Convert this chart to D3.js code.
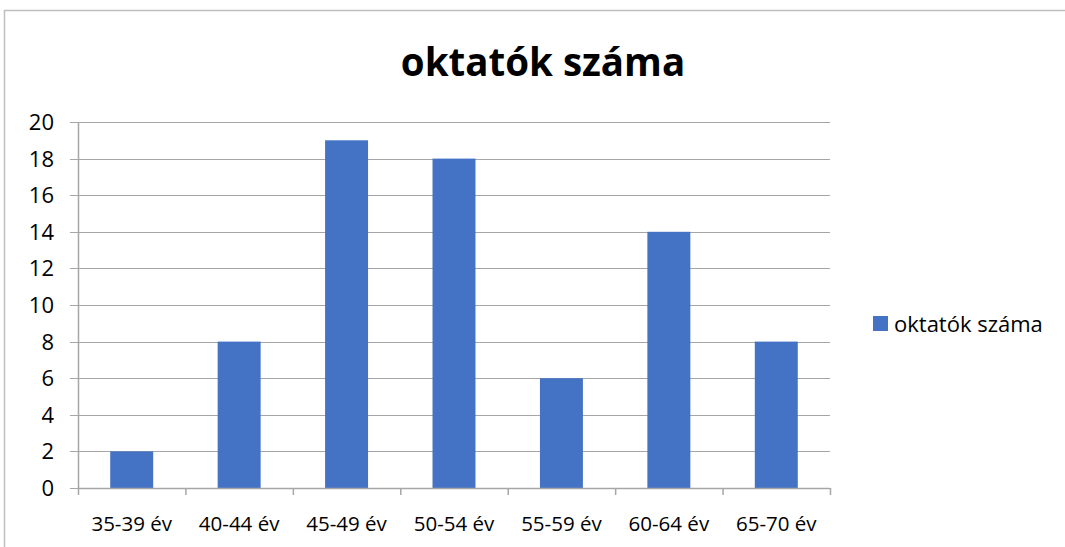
<!DOCTYPE html>
<html>
<head>
<meta charset="utf-8">
<script src="https://cdn.jsdelivr.net/npm/d3@7"></script>
<style>
  body { margin: 0; background: #fff; }
  text { font-family: "Open Sans", "Noto Sans", sans-serif; fill: #000; }
</style>
</head>
<body>
<div id="chart"></div>
<script>
var categories = ['35-39 év', '40-44 év', '45-49 év', '50-54 év', '55-59 év', '60-64 év', '65-70 év'];
var values = [2, 8, 19, 18, 6, 14, 8];
var yTicks = [0, 2, 4, 6, 8, 10, 12, 14, 16, 18, 20];
var seriesName = 'oktatók száma';
var chartTitle = 'oktatók száma';

var W = 1065, H = 547;
var margin = { top: 122, right: 235, bottom: 59, left: 78 };
var width = W - margin.left - margin.right;
var height = H - margin.top - margin.bottom;

var svg = d3.select('#chart').append('svg')
    .attr('width', W)
    .attr('height', H);

// chart frame
svg.append('path')
    .attr('d', 'M4.5,' + H + 'V10.5H' + W)
    .style('fill', 'none')
    .style('stroke', '#bfbfbf')
    .style('stroke-width', '1.5px');

svg.append('text')
    .attr('x', 543)
    .attr('y', 76)
    .attr('text-anchor', 'middle')
    .style('font-size', '38.5px')
    .style('font-weight', 'bold')
    .text(chartTitle);

var g = svg.append('g')
    .attr('transform', 'translate(' + margin.left + ',' + margin.top + ')');

var x = d3.scaleBand().domain(categories).range([0, width]).paddingInner(0.6).paddingOuter(0.3);
var xb = d3.scaleBand().domain(categories).range([0, width]);
var y = d3.scaleLinear().domain([0, 20]).range([height, 0]);

// gridlines
g.selectAll('.grid').data(yTicks).enter().append('line')
    .attr('x1', -8)
    .attr('x2', width)
    .attr('y1', d => Math.round(y(d)) + 0.5)
    .attr('y2', d => Math.round(y(d)) + 0.5)
    .style('stroke', '#a6a6a6')
    .style('stroke-width', '1.2px');

g.selectAll('.ylab').data(yTicks).enter().append('text')
    .attr('x', -24)
    .attr('y', d => y(d))
    .attr('dy', '0.36em')
    .attr('text-anchor', 'end')
    .style('font-size', '22px')
    .text(d => d);

// bars
g.selectAll('.bar').data(values).enter().append('rect')
    .attr('x', (d, i) => x(categories[i]))
    .attr('width', x.bandwidth())
    .attr('y', d => y(d))
    .attr('height', d => height - y(d))
    .style('fill', '#4472c4');

// axes
g.append('line')
    .attr('x1', 0.5).attr('x2', 0.5)
    .attr('y1', 0).attr('y2', height)
    .style('stroke', '#a6a6a6').style('stroke-width', '1.5px');
g.append('line')
    .attr('x1', 0).attr('x2', width)
    .attr('y1', height + 0.5).attr('y2', height + 0.5)
    .style('stroke', '#a6a6a6').style('stroke-width', '1.5px');

var xTickPos = categories.map(c => xb(c)).concat([width]);
g.selectAll('.xtick').data(xTickPos).enter().append('line')
    .attr('x1', d => d + 0.5).attr('x2', d => d + 0.5)
    .attr('y1', height).attr('y2', height + 7)
    .style('stroke', '#a6a6a6').style('stroke-width', '1.5px');

g.selectAll('.xlab').data(categories).enter().append('text')
    .attr('x', d => xb(d) + xb.bandwidth() / 2)
    .attr('y', height + 43)
    .attr('text-anchor', 'middle')
    .style('font-size', '20.5px')
    .text(d => d);

// legend
var lg = svg.append('g').attr('transform', 'translate(873,316)');
lg.append('rect').attr('width', 15).attr('height', 15).style('fill', '#4472c4');
lg.append('text')
    .attr('x', 21)
    .attr('y', 8)
    .attr('dy', '0.36em')
    .style('font-size', '22px')
    .text(seriesName);
</script>
</body>
</html>
